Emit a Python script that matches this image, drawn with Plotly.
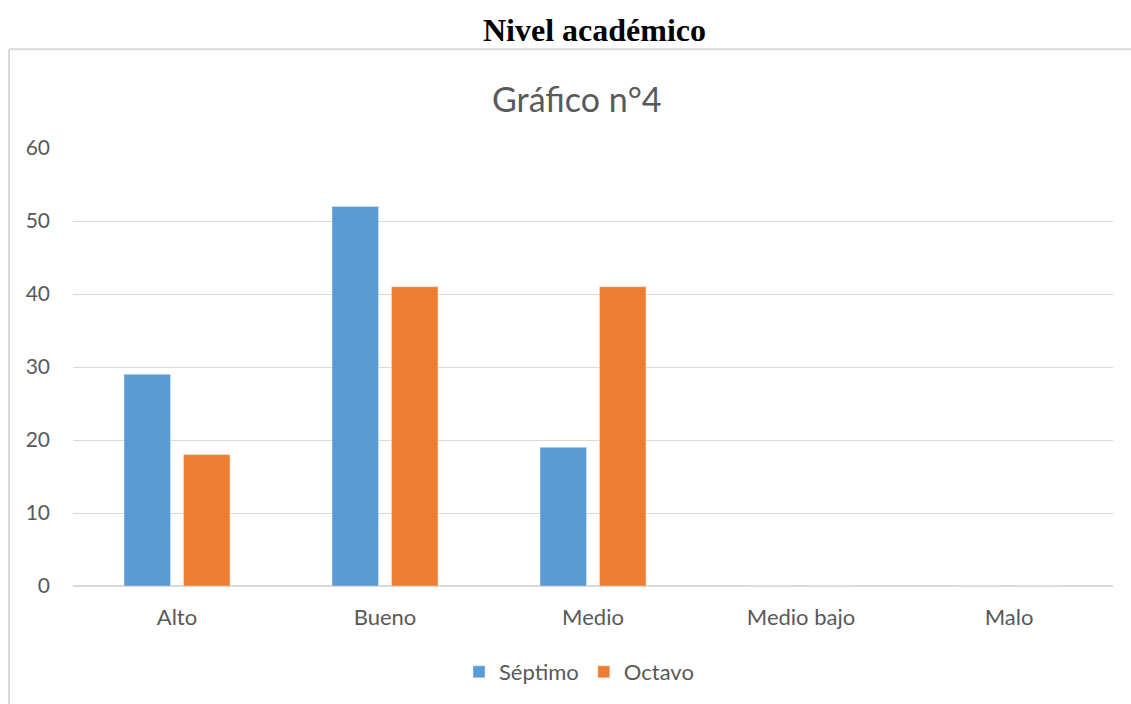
import plotly.graph_objects as go

categories = ["Alto", "Bueno", "Medio", "Medio bajo", "Malo"]
septimo = [29, 52, 19, 0, 0]
octavo = [18, 41, 41, 0, 0]
y_ticks = [0, 10, 20, 30, 40, 50, 60]

BLUE = "#5B9BD5"
ORANGE = "#ED7D31"
GRAY_TEXT = "#595959"
GRID = "#d9d9d9"
FONT = "Lato, 'Open Sans', sans-serif"

fig = go.Figure()
fig.add_trace(go.Bar(name="Séptimo", x=categories, y=septimo, marker_color=BLUE))
fig.add_trace(go.Bar(name="Octavo", x=categories, y=octavo, marker_color=ORANGE))

# plot area in pixels: left 73, right 1113, top 148, bottom 587
L, R, T, B = 73, 1113, 148, 587
W, H = R - L, B - T

def px(xp):
    return (xp - L) / W

def py(yp):
    return (B - yp) / H

fig.update_layout(
    width=1131,
    height=704,
    margin=dict(l=L, r=1131 - R, t=T, b=704 - B),
    paper_bgcolor="white",
    plot_bgcolor="white",
    barmode="group",
    bargap=0.428,
    bargroupgap=0.218,
    font=dict(family=FONT, color=GRAY_TEXT, size=20),
    showlegend=True,
    legend=dict(
        orientation="h",
        x=px(579),
        xanchor="center",
        y=py(672),
        yanchor="middle",
        font=dict(size=22, color=GRAY_TEXT),
        itemwidth=30,
        traceorder="normal",
    ),
    xaxis=dict(
        showgrid=False,
        showline=False,
        ticks="",
        ticklabelstandoff=16,
        tickfont=dict(size=22, color=GRAY_TEXT),
    ),
    yaxis=dict(
        range=[0, 60],
        tickvals=y_ticks,
        showgrid=True,
        gridcolor=GRID,
        gridwidth=1,
        zeroline=True,
        zerolinecolor=GRID,
        zerolinewidth=2,
        showline=False,
        ticks="",
        ticklabelstandoff=22,
        tickfont=dict(size=21, color=GRAY_TEXT),
    ),
    shapes=[
        # chart frame: left and top edges
        dict(type="line", xref="paper", yref="paper",
             x0=px(9), x1=px(9), y0=py(49), y1=py(710),
             line=dict(color=GRID, width=2)),
        dict(type="line", xref="paper", yref="paper",
             x0=px(9), x1=px(1135), y0=py(49), y1=py(49),
             line=dict(color=GRID, width=2)),
    ],
    annotations=[
        dict(text="<b>Nivel académico</b>", xref="paper", yref="paper",
             x=px(594), y=py(30), xanchor="center", yanchor="middle",
             showarrow=False,
             font=dict(family="'Liberation Serif', 'Times New Roman', serif",
                       size=32, color="black")),
        dict(text="Gráfico n°4", xref="paper", yref="paper",
             x=px(576), y=py(98), xanchor="center", yanchor="middle",
             showarrow=False,
             font=dict(family=FONT, size=34, color=GRAY_TEXT)),
    ],
)

fig.write_html("out.html")
